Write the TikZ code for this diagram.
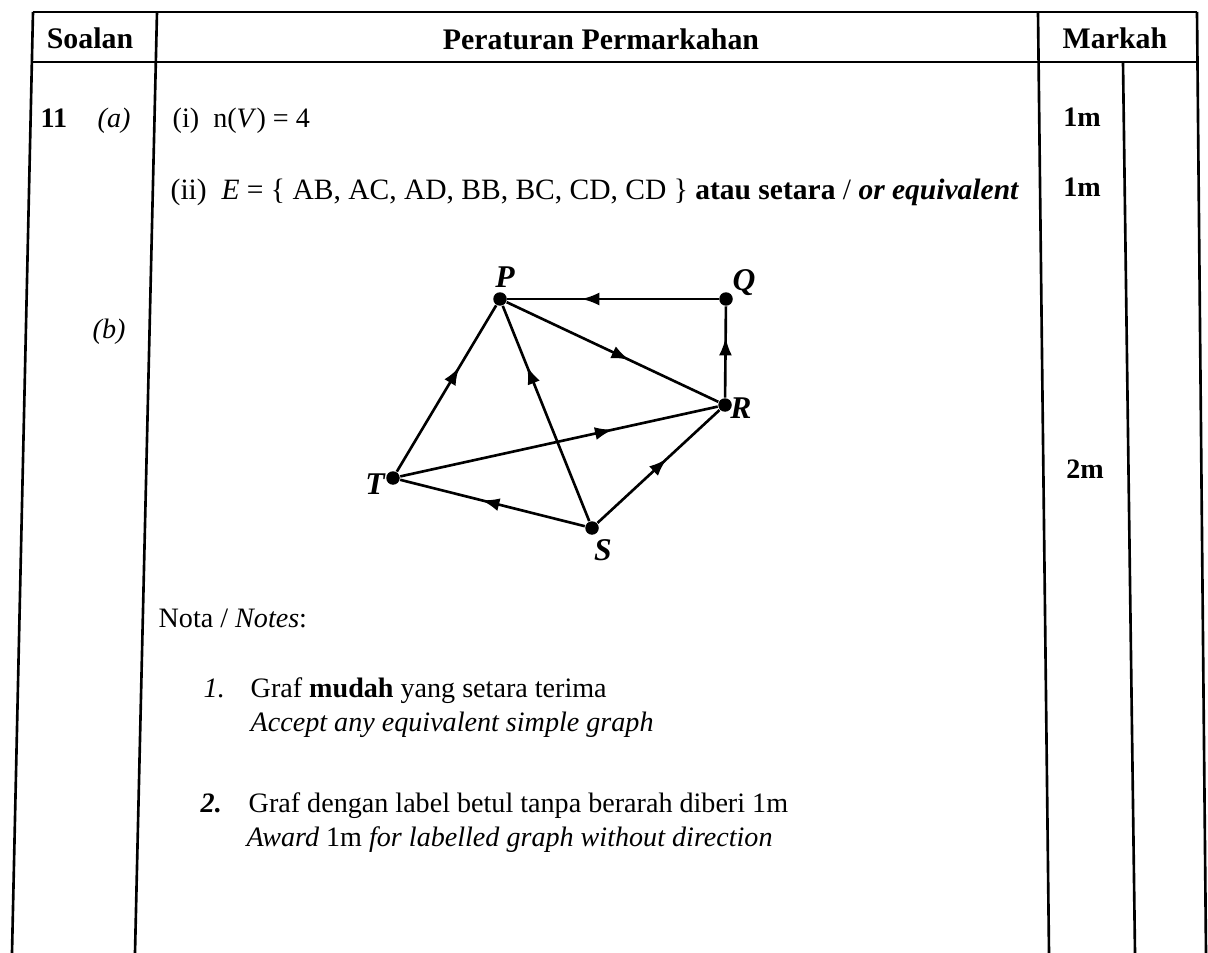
\documentclass[tikz,border=0pt]{standalone}
\usepackage{fontspec}
\setmainfont{Liberation Serif}
\usetikzlibrary{arrows.meta,decorations.markings}

\begin{document}
\begin{tikzpicture}[x=0.02cm, y=-0.02cm, thick, >=Stealth,
    every node/.style={inner sep=0pt, font=\fontsize{16}{19}\selectfont},
    txt/.style={anchor=base west},
    head/.style={anchor=base, font=\fontsize{17}{20}\selectfont\bfseries},
    mk/.style={anchor=base, font=\fontsize{16}{19}\selectfont\bfseries},
    tblrule/.style={line width=1.5pt},
    vertex/.style={circle, fill, minimum size=0.27cm},
    vlabel/.style={font=\fontsize{18}{21}\selectfont\bfseries\itshape},
    diedge/.style={line width=1.5pt, postaction={decorate, decoration={markings,
        mark=at position #1 with {\arrow{Latex[length=0.36cm, width=0.26cm]}}}}}]
    \useasboundingbox (0,0) rectangle (1208,953);
    % table rules
    \draw[tblrule] (33,12) -- (1197,12);
    \draw[tblrule] (33,62) -- (1198,62);
    \draw[tblrule] (33,12) -- (12,953);
    \draw[tblrule] (157,12) -- (135,953);
    \draw[tblrule] (1038,12) -- (1049,953);
    \draw[tblrule] (1123,62) -- (1135,953);
    \draw[tblrule] (1197,12) -- (1206,953);
    % header
    \node[head] (soalan) at (90,49) {Soalan};
    \node[head] (peraturan) at (601,50) {Peraturan Permarkahan};
    \node[head] (markah) at (1115,49) {Markah};
    % part (a)
    \node[txt] (q11) at (40,128) {\textbf{11}};
    \node[txt] (qa) at (97,128) {\textit{(a)}};
    \node[txt] (ai) at (172,128) {(i)\ \ n(\textit{V}) = 4};
    \node[txt, font=\fontsize{16.8}{19}\selectfont] (aii) at (170,199) {(ii)\ \ \textit{E} = \{ AB, AC, AD, BB, BC, CD, CD \} \textbf{atau setara} / \textbf{\textit{or equivalent}}};
    \node[mk] (m1) at (1082,127) {1m};
    \node[mk] (m2) at (1082,196) {1m};
    % part (b): the graph
    \node[txt] (qb) at (92,338) {\textit{(b)}};
    \node[vertex] (P) at (500,299) {};
    \node[vertex] (Q) at (726,299) {};
    \node[vertex] (R) at (725,405) {};
    \node[vertex] (T) at (393,478) {};
    \node[vertex] (S) at (592,528) {};
    \node[vlabel] (Plbl) at (505,277) {P};
    \node[vlabel] (Qlbl) at (744,283) {Q};
    \node[vlabel] (Rlbl) at (741,408) {R};
    \node[vlabel] (Tlbl) at (375,484) {T};
    \node[vlabel] (Slbl) at (603,550) {S};
    \draw[diedge=0.65] (Q) -- (P);
    \draw[diedge=0.66] (R) -- (Q);
    \draw[diedge=0.58] (P) -- (R);
    \draw[diedge=0.63] (T) -- (P);
    \draw[diedge=0.72] (S) -- (P);
    \draw[diedge=0.67] (T) -- (R);
    \draw[diedge=0.56] (S) -- (T);
    \draw[diedge=0.57] (S) -- (R);
    \node[mk] (m3) at (1085,478) {2m};
    % notes
    \node[txt] (nota) at (158,627) {Nota / \textit{Notes}:};
    \node[txt] (n1) at (203,697) {\textit{1.}};
    \node[txt] (n1a) at (250,697) {Graf \textbf{mudah} yang setara terima};
    \node[txt] (n1b) at (250,731) {\textit{Accept any equivalent simple graph}};
    \node[txt] (n2) at (200,812) {\textbf{\textit{2.}}};
    \node[txt] (n2a) at (248,812) {Graf dengan label betul tanpa berarah diberi 1m};
    \node[txt] (n2b) at (246,846) {\textit{Award} 1m \textit{for labelled graph without direction}};
\end{tikzpicture}
\end{document}
